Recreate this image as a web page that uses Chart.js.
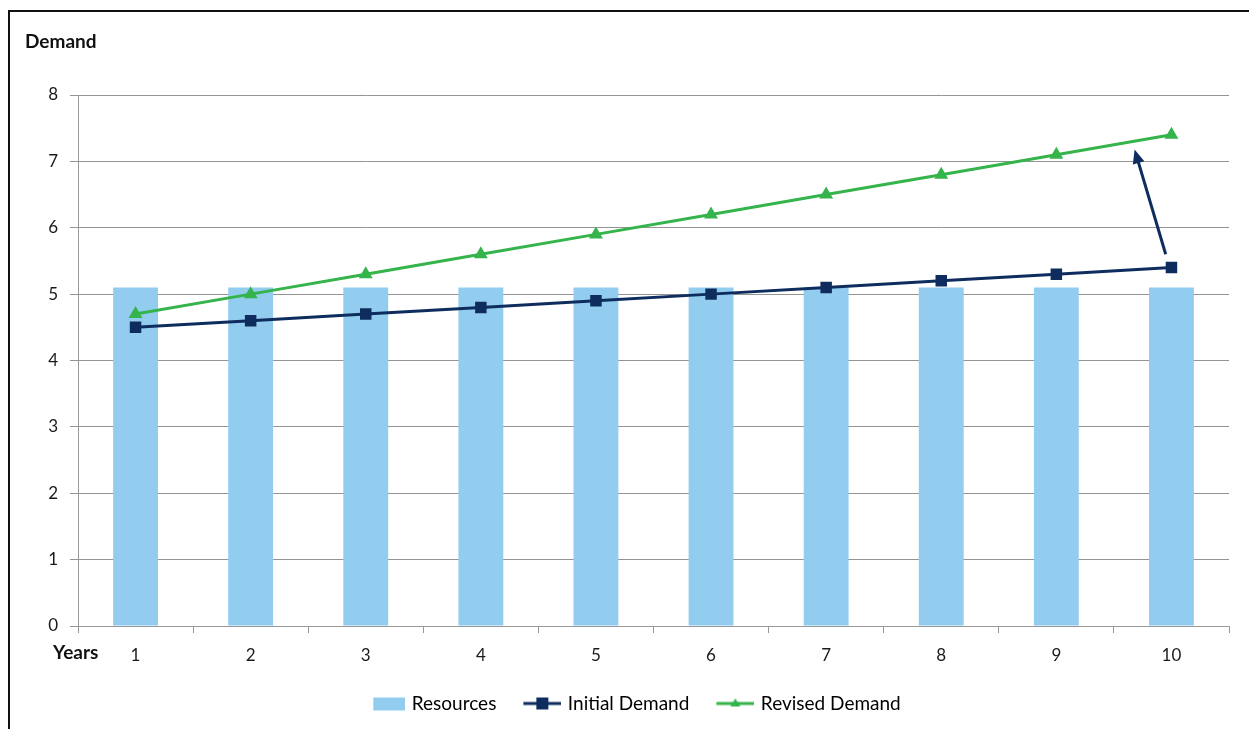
<!DOCTYPE html>
<html>
<head>
<meta charset="utf-8">
<script src="https://cdn.jsdelivr.net/npm/chart.js@4/dist/chart.umd.min.js"></script>
<style>
  html, body { margin: 0; padding: 0; background: #fff; overflow: hidden; }
  #wrap { position: relative; width: 1249px; height: 729px; }
  #frame { position: absolute; left: 8px; top: 10px; width: 1300px; height: 800px;
           border-top: 2px solid #111; border-left: 2px solid #111; }
  canvas { position: absolute; left: 0; top: 0; }
</style>
</head>
<body>
<div id="wrap">
  <div id="frame"></div>
  <canvas id="chart" width="1249" height="729"></canvas>
</div>
<script>
const years = ["1", "2", "3", "4", "5", "6", "7", "8", "9", "10"];
const resources = [5.1, 5.1, 5.1, 5.1, 5.1, 5.1, 5.1, 5.1, 5.1, 5.1];
const initialDemand = [4.5, 4.6, 4.7, 4.8, 4.9, 5.0, 5.1, 5.2, 5.3, 5.4];
const revisedDemand = [4.7, 5.0, 5.3, 5.6, 5.9, 6.2, 6.5, 6.8, 7.1, 7.4];
const yTicks = [0, 1, 2, 3, 4, 5, 6, 7, 8];
// arrow from initial to revised demand, in [year, demand]
const arrowFrom = [9.95, 5.6];
const arrowTo = [9.68, 7.18];

const barColor = '#92cdef';
const navy = '#0e2d5e';
const green = '#34b44a';
const font = 'Lato, "Open Sans", sans-serif';

Chart.defaults.font.family = font;
Chart.defaults.color = '#1a1a1a';

function legendIcon(kind) {
  const c = document.createElement('canvas');
  c.width = 40; c.height = 16;
  const g = c.getContext('2d');
  if (kind === 'bar') {
    g.fillStyle = barColor;
    g.fillRect(8, 2, 32, 13);
  } else if (kind === 'square') {
    g.strokeStyle = navy; g.lineWidth = 3;
    g.beginPath(); g.moveTo(2, 8); g.lineTo(40, 8); g.stroke();
    g.fillStyle = navy; g.fillRect(15, 2, 12, 12);
  } else {
    g.strokeStyle = green; g.lineWidth = 3;
    g.beginPath(); g.moveTo(2, 8); g.lineTo(40, 8); g.stroke();
    g.fillStyle = green;
    g.beginPath(); g.moveTo(21, 3); g.lineTo(26, 11); g.lineTo(16, 11); g.closePath(); g.fill();
  }
  return c;
}
const icons = [legendIcon('bar'), legendIcon('square'), legendIcon('tri')];

const extras = {
  id: 'extras',
  afterLayout(chart) {
    // nudge legend like the original
    chart.legend.left += 20;
    chart.legend.right += 20;
    chart.legend.top -= 4;
    chart.legend.bottom -= 4;
  },
  afterDatasetsDraw(chart) {
    const ctx = chart.ctx;
    const x = chart.scales.x, y = chart.scales.y;
    const step = x.getPixelForValue(1) - x.getPixelForValue(0);
    const px = v => x.getPixelForValue(0) + (v - 1) * step;
    const x1 = px(arrowFrom[0]), y1 = y.getPixelForValue(arrowFrom[1]);
    const x2 = px(arrowTo[0]), y2 = y.getPixelForValue(arrowTo[1]);
    const ang = Math.atan2(y2 - y1, x2 - x1);
    ctx.save();
    ctx.strokeStyle = navy; ctx.fillStyle = navy; ctx.lineWidth = 3;
    ctx.beginPath();
    ctx.moveTo(x1, y1);
    ctx.lineTo(x2 - 8 * Math.cos(ang), y2 - 8 * Math.sin(ang));
    ctx.stroke();
    ctx.beginPath();
    ctx.moveTo(x2, y2);
    ctx.lineTo(x2 - 14 * Math.cos(ang) + 6 * Math.sin(ang), y2 - 14 * Math.sin(ang) - 6 * Math.cos(ang));
    ctx.lineTo(x2 - 14 * Math.cos(ang) - 6 * Math.sin(ang), y2 - 14 * Math.sin(ang) + 6 * Math.cos(ang));
    ctx.closePath();
    ctx.fill();
    ctx.restore();
  },
  afterDraw(chart) {
    const ctx = chart.ctx;
    ctx.save();
    ctx.fillStyle = '#111';
    ctx.font = 'bold 19px ' + font;
    ctx.textBaseline = 'middle';
    ctx.textAlign = 'left';
    ctx.fillText('Demand', 25, 42);
    ctx.fillText('Years', 53, 653);
    ctx.restore();
  }
};

new Chart(document.getElementById('chart'), {
  type: 'bar',
  data: {
    labels: years,
    datasets: [
      {
        type: 'line',
        label: 'Revised Demand',
        data: revisedDemand,
        borderColor: green,
        backgroundColor: green,
        borderWidth: 3,
        pointStyle: 'triangle',
        pointRadius: 5,
        pointHoverRadius: 5,
        order: 1
      },
      {
        type: 'line',
        label: 'Initial Demand',
        data: initialDemand,
        borderColor: navy,
        backgroundColor: navy,
        borderWidth: 3,
        pointStyle: 'rect',
        pointRadius: 6,
        pointHoverRadius: 6,
        order: 2
      },
      {
        label: 'Resources',
        data: resources,
        backgroundColor: barColor,
        categoryPercentage: 1,
        barPercentage: 0.39,
        order: 3
      }
    ]
  },
  options: {
    responsive: false,
    animation: false,
    layout: { padding: { left: 0, right: 20, top: 95, bottom: 2 } },
    scales: {
      x: {
        grid: { drawOnChartArea: false, drawTicks: true, tickLength: 7, color: '#999', offset: true },
        border: { color: '#999' },
        ticks: { padding: 12, font: { size: 17 } },
        afterFit: s => { s.height = 44; }
      },
      y: {
        min: 0,
        max: 8,
        afterBuildTicks: s => { s.ticks = yTicks.map(v => ({ value: v })); },
        grid: { color: '#949494', tickLength: 8 },
        border: { color: '#999' },
        ticks: { padding: 12, font: { size: 17 } },
        afterFit: s => { s.width = 78; }
      }
    },
    plugins: {
      legend: {
        position: 'bottom',
        reverse: true,
        labels: {
          usePointStyle: true,
          pointStyleWidth: 34,
          padding: 28,
          font: { size: 19 },
          color: '#222',
          generateLabels: chart => chart.data.datasets.map((d, i) => ({
            text: d.label,
            pointStyle: icons[2 - i],
            datasetIndex: i,
            fillStyle: 'transparent',
            strokeStyle: 'transparent',
            lineWidth: 0,
            hidden: false
          }))
        }
      },
      tooltip: { enabled: false }
    }
  },
  plugins: [extras]
});
</script>
</body>
</html>
